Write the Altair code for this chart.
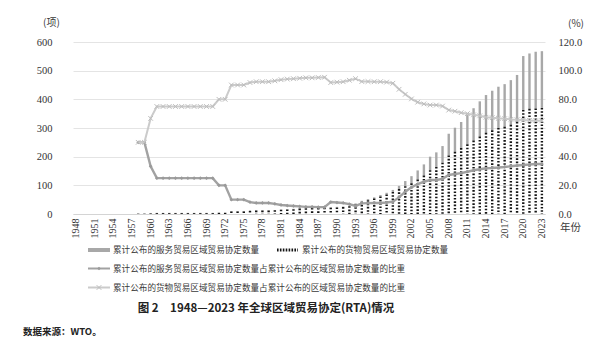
import altair as alt
import pandas as pd

years = list(range(1948, 2024))
label_years = list(range(1948, 2024, 3))

goods_count = [0, 0, 0, 0, 0, 0, 0, 0, 0, 0,
               1, 1, 2,
               3, 3, 3, 3, 3, 3, 3, 3, 3, 3,
               4, 4,
               9, 9, 9,
               11, 12, 12, 12, 13,
               15, 16, 17, 19, 20, 21, 21, 22,
               22, 23, 24, 27, 35,
               43, 48, 54, 61, 68, 77,
               87, 97, 107, 120, 134, 153, 164, 179, 204, 217, 230, 243,
               256, 270, 283, 292, 300, 304, 311, 321, 363, 367, 368, 370]

services_count = [0, 0, 0, 0, 0, 0, 0, 0, 0, 0,
                  1, 1, 1,
                  1, 1, 1, 1, 1, 1, 1, 1, 1, 1,
                  1, 1,
                  1, 1, 1,
                  1, 1, 1, 1, 1,
                  1, 1, 1, 1, 1, 1, 1, 1,
                  2, 2, 2, 2, 2,
                  3, 4, 4, 5, 6, 7,
                  11, 18, 25, 32, 39, 47, 51, 58, 76, 84, 91, 102,
                  113, 123, 132, 138, 144, 149, 156, 164, 188, 193, 198, 198]

share_years = list(range(1958, 2024))

services_share = [50.0, 50.0, 33.3,
                  25.0, 25.0, 25.0, 25.0, 25.0, 25.0, 25.0, 25.0, 25.0, 25.0,
                  20.0, 20.0,
                  10.0, 10.0, 10.0,
                  8.3, 7.7, 7.7, 7.7, 7.1,
                  6.3, 5.9, 5.6, 5.3, 5.0, 5.0, 4.8, 4.8,
                  8.3, 8.0, 7.7, 6.9, 5.6,
                  7.4, 7.6, 7.7, 7.7, 8.0, 8.6,
                  11.6, 15.6, 18.6, 20.9, 22.5, 23.7, 23.7, 24.5, 27.2, 27.9, 28.5, 29.5,
                  30.5, 31.2, 31.9, 32.1, 32.4, 32.8, 33.3, 33.8, 34.2, 34.5, 34.9, 34.9]

goods_share = [50.0, 50.0, 66.7,
               75.0, 75.0, 75.0, 75.0, 75.0, 75.0, 75.0, 75.0, 75.0, 75.0,
               80.0, 80.0,
               90.0, 90.0, 90.0,
               91.7, 92.3, 92.3, 92.3, 92.9,
               93.7, 94.1, 94.4, 94.7, 95.0, 95.0, 95.2, 95.4,
               91.7, 92.0, 92.3, 93.3, 94.4,
               92.4, 92.4, 92.3, 92.3, 92.0, 91.2,
               87.0, 83.5, 80.3, 78.0, 76.8, 76.0, 76.0, 75.3, 72.5, 71.7, 70.7, 70.0,
               69.2, 68.5, 67.5, 67.2, 66.8, 66.5, 66.0, 65.8, 65.5, 65.3, 65.1, 65.0]

legend_labels = [
    "累计公布的服务贸易区域贸易协定数量",
    "累计公布的货物贸易区域贸易协定数量",
    "累计公布的服务贸易区域贸易协定数量占累计公布的区域贸易协定数量的比重",
    "累计公布的货物贸易区域贸易协定数量占累计公布的区域贸易协定数量的比重",
]
title_text = "图 2　1948—2023 年全球区域贸易协定(RTA)情况"
source_text = "数据来源：WTO。"

df_bar = pd.DataFrame({"year": years, "goods": goods_count, "services": services_count})
df_line = pd.DataFrame({"year": share_years, "services_share": services_share,
                        "goods_share": goods_share})
one = pd.DataFrame({"a": [0]})

CJK = "Noto Sans CJK SC"
SERIF = "Liberation Serif"

X = alt.X("year:O", scale=alt.Scale(domain=years, paddingInner=0, paddingOuter=0),
          axis=alt.Axis(values=label_years, labelAngle=-90, labelFont=SERIF, labelFontSize=10,
                        labelColor="#333333", ticks=False, domainColor="#d4d4d4",
                        labelPadding=4, title=None, grid=False))

left_scale = alt.Scale(domain=[0, 600], nice=False)
right_scale = alt.Scale(domain=[0, 120], nice=False)

gray_bar = alt.Chart(df_bar).transform_calculate(
    total="datum.goods + datum.services"
).mark_bar(color="#a8a8a8", size=2.4).encode(
    x=X,
    y=alt.Y("goods:Q", scale=left_scale,
            axis=alt.Axis(values=[0, 100, 200, 300, 400, 500, 600], title=None, domain=False,
                          ticks=False, labelFont=SERIF, labelFontSize=10.5, labelColor="#333333",
                          labelPadding=21, gridColor="#e4e4e4", gridWidth=1)),
    y2="total:Q",
)

dotted_bar = alt.Chart(df_bar).transform_calculate(zero="0").mark_rule(
    color="#151515", strokeWidth=2.4, strokeDash=[1.6, 1.7]
).encode(
    x=X,
    y=alt.Y("goods:Q", scale=left_scale, axis=None),
    y2="zero:Q",
)

line_s = alt.Chart(df_line).mark_line(color="#a2a2a2", strokeWidth=2.4).encode(
    x=X,
    y=alt.Y("services_share:Q", scale=right_scale,
            axis=alt.Axis(orient="right", values=[0, 20, 40, 60, 80, 100, 120], format=".1f",
                          title=None, domain=False, ticks=False, grid=False,
                          labelFont=SERIF, labelFontSize=10.5, labelColor="#333333",
                          labelPadding=13)),
)
pts_s = alt.Chart(df_line).mark_point(shape="diamond", filled=True, color="#9a9a9a",
                                       size=14, opacity=1).encode(
    x=X, y=alt.Y("services_share:Q", scale=right_scale, axis=None))

line_g = alt.Chart(df_line).mark_line(color="#cbcbcb", strokeWidth=2.0).encode(
    x=X, y=alt.Y("goods_share:Q", scale=right_scale, axis=None))
pts_g = alt.Chart(df_line).mark_point(shape="M-1,-1L1,1M-1,1L1,-1", filled=False,
                                       color="#bdbdbd", size=22, strokeWidth=1,
                                       opacity=1).encode(
    x=X, y=alt.Y("goods_share:Q", scale=right_scale, axis=None))


def txt(text, x, y, size=8.6, weight="normal", align="left", font=CJK, color="#3a3a3a"):
    return alt.Chart(one).mark_text(text=text, font=font, fontSize=size, fontWeight=weight,
                                    align=align, baseline="middle", color=color).encode(
        x=alt.value(x), y=alt.value(y))


def seg(x1, x2, y, color, width, dash=None):
    kw = dict(color=color, strokeWidth=width)
    if dash:
        kw["strokeDash"] = dash
    return alt.Chart(one).mark_rule(**kw).encode(x=alt.value(x1), x2=alt.value(x2), y=alt.value(y))


def marker(x, y, shape, color, size, filled):
    return alt.Chart(one).mark_point(shape=shape, filled=filled, color=color, size=size,
                                     strokeWidth=1, opacity=1).encode(
        x=alt.value(x), y=alt.value(y))


annots = [
    txt("(项)", -30, -19, size=10),
    txt("(%)", 495, -18, size=10),
    txt("年份", 487, 186, size=10.5),
    seg(15, 37, 208, "#a8a8a8", 4),
    txt(legend_labels[0], 40, 208),
    seg(204, 225, 208, "#151515", 3, [1.6, 1.3]),
    txt(legend_labels[1], 229, 208),
    seg(15, 37, 226.5, "#a2a2a2", 2),
    marker(26, 226.5, "diamond", "#9a9a9a", 14, True),
    txt(legend_labels[2], 40, 226.5),
    seg(15, 37, 245.5, "#cbcbcb", 2),
    marker(26, 245.5, "M-1,-1L1,1M-1,1L1,-1", "#bdbdbd", 22, False),
    txt(legend_labels[3], 40, 245.5),
    txt(title_text, 193, 267, size=11.5, weight="bold", align="center", color="#222222"),
    txt(source_text, -50, 290, size=9.5, weight="bold", color="#222222"),
]

chart = alt.layer(gray_bar, dotted_bar, line_s, pts_s, line_g, pts_g, *annots).resolve_scale(
    y="independent"
).properties(
    width=472, height=172,
    autosize=alt.AutoSizeParams(type="none"),
    padding={"left": 73, "top": 42, "right": 56, "bottom": 138},
    background="white",
).configure_view(stroke=None)

chart.save("out.html", embed_options={"renderer": "svg", "actions": False})
